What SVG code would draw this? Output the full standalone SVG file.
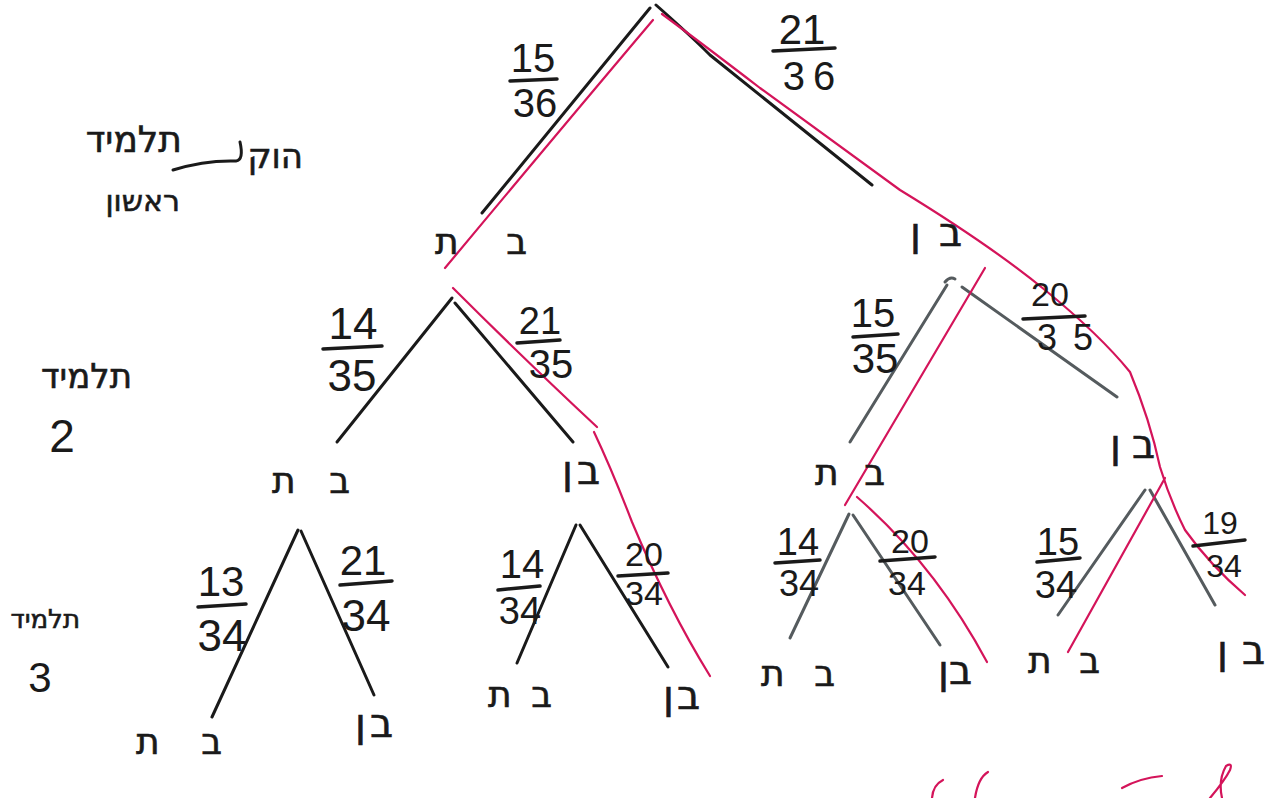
<svg xmlns="http://www.w3.org/2000/svg" width="1279" height="798" viewBox="0 0 1279 798">
<style>
.bk{fill:none;stroke:#1a1a1a;stroke-width:3;stroke-linecap:round;stroke-linejoin:round}
.gr{fill:none;stroke:#555b5e;stroke-width:3;stroke-linecap:round;stroke-linejoin:round}
.rd{fill:none;stroke:#d4145a;stroke-width:2.2;stroke-linecap:round;stroke-linejoin:round}
.bar{stroke:#1a1a1a;stroke-width:3.5;stroke-linecap:round}
.n{font-family:"Liberation Sans","DejaVu Sans",sans-serif;fill:#1a1a1a;text-anchor:middle}
.h{font-family:"DejaVu Sans","Liberation Sans",sans-serif;fill:#1a1a1a;stroke:#1a1a1a;stroke-width:0.6;text-anchor:end}
</style>
<rect width="1279" height="798" fill="#ffffff"/>

<g id="connectors">
  <!-- level 1 -->
  <path class="bk" d="M650,8 L482,213"/>
  <path class="bk" d="M656,5 Q690,35 710,55 L872,185"/>
  <!-- level 2 A -->
  <path class="bk" d="M452,298 L337,442"/>
  <path class="bk" d="M455,303 L573,442"/>
  <!-- level 2 B -->
  <path class="gr" d="M945,282 Q950,276 955,279 M947,285 L850,442"/>
  <path class="gr" d="M962,287 L1117,397"/>
  <!-- level 3 C1 -->
  <path class="bk" d="M298,530 L212,717"/>
  <path class="bk" d="M301,531 L374,695"/>
  <!-- level 3 C2 -->
  <path class="bk" d="M576,525 L517,663"/>
  <path class="bk" d="M580,525 L668,667"/>
  <!-- level 3 C3 -->
  <path class="gr" d="M849,514 L790,638"/>
  <path class="gr" d="M853,515 L940,645"/>
  <!-- level 3 C4 -->
  <path class="gr" d="M1145,490 L1058,615"/>
  <path class="gr" d="M1150,490 L1215,605"/>

  <!-- red highlighted path -->
  <path class="rd" d="M653,20 Q560,130 445,268"/>
  <path class="rd" d="M662,14 Q700,42 760,88 L900,190 Q990,245 1045,290 Q1100,335 1130,372 Q1150,420 1160,467 Q1170,500 1185,530 Q1210,565 1245,595"/>
  <path class="rd" d="M1165,478 L1068,652"/>
  <path class="rd" d="M453,288 Q520,355 597,427"/>
  <path class="rd" d="M594,432 Q612,470 632,522 Q668,608 710,676"/>
  <path class="rd" d="M985,268 L845,505"/>
  <path class="rd" d="M857,497 Q935,565 987,662"/>
</g>

<g id="fractions">
  <!-- 15/36 -->
  <text class="n" x="533" y="72" font-size="40">15</text>
  <line class="bar" x1="510" y1="81" x2="557" y2="79"/>
  <text class="n" x="535" y="117" font-size="40">36</text>
  <!-- 21/36 -->
  <text class="n" x="802" y="44" font-size="42">21</text>
  <line class="bar" x1="773" y1="51" x2="835" y2="48"/>
  <text class="n" x="813" y="90" font-size="40" letter-spacing="8">36</text>
  <!-- 14/35 -->
  <text class="n" x="353" y="339" font-size="44">14</text>
  <line class="bar" x1="323" y1="349" x2="382" y2="346"/>
  <text class="n" x="352" y="391" font-size="44">35</text>
  <!-- 21/35 -->
  <text class="n" x="540" y="334" font-size="38">21</text>
  <line class="bar" x1="517" y1="343" x2="560" y2="340"/>
  <text class="n" x="551" y="378" font-size="40">35</text>
  <!-- 15/35 -->
  <text class="n" x="873" y="327" font-size="40">15</text>
  <line class="bar" x1="853" y1="337" x2="898" y2="334"/>
  <text class="n" x="875" y="373" font-size="42">35</text>
  <!-- 20/35 -->
  <text class="n" x="1050" y="306" font-size="34">20</text>
  <line class="bar" x1="1023" y1="319" x2="1085" y2="316"/>
  <text x="1037" y="350" font-size="36" letter-spacing="16" font-family="Liberation Sans, sans-serif" fill="#1a1a1a">35</text>
  <!-- 13/34 -->
  <text class="n" x="221" y="596" font-size="42">13</text>
  <line class="bar" x1="198" y1="607" x2="246" y2="604"/>
  <text class="n" x="222" y="651" font-size="44">34</text>
  <!-- 21/34 -->
  <text class="n" x="363" y="575" font-size="42">21</text>
  <line class="bar" x1="340" y1="585" x2="392" y2="581"/>
  <text class="n" x="366" y="631" font-size="44">34</text>
  <!-- 14/34 C2 -->
  <text class="n" x="522" y="578" font-size="40">14</text>
  <line class="bar" x1="498" y1="590" x2="540" y2="586"/>
  <text class="n" x="520" y="624" font-size="38">34</text>
  <!-- 20/34 C2 -->
  <text class="n" x="644" y="566" font-size="34">20</text>
  <line class="bar" x1="618" y1="576" x2="668" y2="573"/>
  <text class="n" x="644" y="605" font-size="34">34</text>
  <!-- 14/34 C3 -->
  <text class="n" x="798" y="555" font-size="38">14</text>
  <line class="bar" x1="775" y1="563" x2="820" y2="560"/>
  <text class="n" x="799" y="596" font-size="36">34</text>
  <!-- 20/34 C3 -->
  <text class="n" x="910" y="553" font-size="34">20</text>
  <line class="bar" x1="880" y1="561" x2="935" y2="557"/>
  <text class="n" x="907" y="595" font-size="34">34</text>
  <!-- 15/34 -->
  <text class="n" x="1058" y="555" font-size="38">15</text>
  <line class="bar" x1="1037" y1="562" x2="1080" y2="558"/>
  <text class="n" x="1056" y="598" font-size="38">34</text>
  <!-- 19/34 -->
  <text class="n" x="1220" y="534" font-size="32">19</text>
  <line class="bar" x1="1193" y1="546" x2="1245" y2="540"/>
  <text class="n" x="1224" y="577" font-size="32">34</text>
</g>

<g id="leaf-1L"><text class="h" x="527" y="254" font-size="36" textLength="92" lengthAdjust="spacing">בת</text></g>
<g id="leaf-1R"><text class="h" x="962" y="246" font-size="40" textLength="52" lengthAdjust="spacing">בן</text></g>
<g id="leaf-2AL"><text class="h" x="350" y="493" font-size="36" textLength="78" lengthAdjust="spacing">בת</text></g>
<g id="leaf-2AR"><text class="h" x="600" y="484" font-size="40" textLength="38" lengthAdjust="spacing">בן</text></g>
<g id="leaf-2BL"><text class="h" x="885" y="485" font-size="36" textLength="70" lengthAdjust="spacing">בת</text></g>
<g id="leaf-2BR"><text class="h" x="1155" y="458" font-size="40" textLength="45" lengthAdjust="spacing">בן</text></g>
<g id="leaf-3C1L"><text class="h" x="222" y="754" font-size="36" textLength="86" lengthAdjust="spacing">בת</text></g>
<g id="leaf-3C1R"><text class="h" x="393" y="737" font-size="40" textLength="38" lengthAdjust="spacing">בן</text></g>
<g id="leaf-3C2L"><text class="h" x="552" y="707" font-size="36" textLength="64" lengthAdjust="spacing">בת</text></g>
<g id="leaf-3C2R"><text class="h" x="700" y="709" font-size="40" textLength="37" lengthAdjust="spacing">בן</text></g>
<g id="leaf-3C3L"><text class="h" x="835" y="686" font-size="36" textLength="74" lengthAdjust="spacing">בת</text></g>
<g id="leaf-3C3R"><text class="h" x="972" y="684" font-size="40" textLength="34" lengthAdjust="spacing">בן</text></g>
<g id="leaf-3C4L"><text class="h" x="1100" y="673" font-size="36" textLength="72" lengthAdjust="spacing">בת</text></g>
<g id="leaf-3C4R"><text class="h" x="1265" y="664" font-size="40" textLength="48" lengthAdjust="spacing">בן</text></g>

<g id="level-labels">
  <text class="h" x="182" y="152" font-size="36">תלמיד</text>
  <path class="bk" d="M173,170 Q205,160 236,161 Q244,160 240,142"/>
  <text class="h" x="303" y="168" font-size="34">הוק</text>
  <text class="h" x="180" y="211" font-size="30">ראשון</text>
  <text class="h" x="132" y="388" font-size="34">תלמיד</text>
  <text class="n" x="62" y="452" font-size="46">2</text>
  <text class="h" x="80" y="628" font-size="26">תלמיד</text>
  <text class="n" x="40" y="692" font-size="42">3</text>
</g>

<g id="bottom-scribbles">
  <path class="rd" d="M932,798 Q933,785 943,780"/>
  <path class="rd" d="M975,798 Q978,778 988,772"/>
  <path class="rd" d="M1122,788 Q1140,778 1162,776"/>
  <path class="rd" d="M1210,798 Q1225,780 1230,770 Q1233,762 1226,766 Q1218,780 1222,798"/>
</g>
</svg>
